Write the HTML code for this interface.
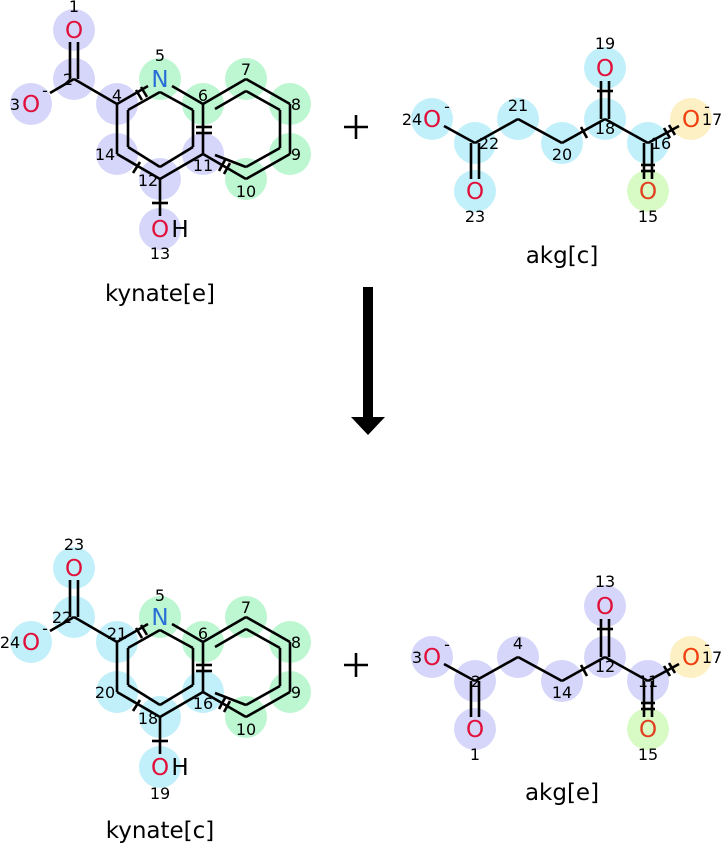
<!DOCTYPE html>
<html><head><meta charset="utf-8"><style>
html,body{margin:0;padding:0;background:#fff;}
svg{display:block;}
text{font-family:"DejaVu Sans","Liberation Sans",sans-serif;}
.n{font-size:16px;fill:#000;text-anchor:middle;}
.a{font-size:23px;text-anchor:middle;}
.o{fill:#e0103a;}
.l{font-size:23px;text-anchor:middle;fill:#000;}
circle{r:21px;}
</style></head><body>
<svg width="722" height="844" viewBox="0 0 722 844" xmlns="http://www.w3.org/2000/svg">
<defs>
<g id="kb" stroke="#000" stroke-width="2.6" fill="none" stroke-linecap="butt">
 <line x1="70" y1="42" x2="70" y2="79"/><line x1="78" y1="42" x2="78" y2="79"/>
 <line x1="74" y1="79" x2="50" y2="93"/>
 <line x1="74" y1="79" x2="117" y2="104"/>
 <line x1="117" y1="104" x2="148" y2="86"/>
 <line x1="172" y1="86" x2="203" y2="104"/>
 <line x1="203" y1="104" x2="246" y2="79"/>
 <line x1="246" y1="79" x2="290" y2="104"/>
 <line x1="290" y1="104" x2="290" y2="154"/>
 <line x1="290" y1="154" x2="246" y2="179"/>
 <line x1="246" y1="179" x2="203" y2="154"/>
 <line x1="203" y1="104" x2="203" y2="154"/>
 <line x1="203" y1="154" x2="160" y2="179"/>
 <line x1="160" y1="179" x2="117" y2="154"/>
 <line x1="117" y1="154" x2="117" y2="104"/>
 <line x1="160" y1="179" x2="160" y2="216"/>
 <line x1="128" y1="110" x2="160" y2="92"/>
 <line x1="160" y1="92" x2="193" y2="110"/>
 <line x1="193" y1="110" x2="193" y2="147"/>
 <line x1="193" y1="147" x2="160" y2="167"/>
 <line x1="160" y1="167" x2="128" y2="147"/>
 <line x1="128" y1="147" x2="128" y2="110"/>
 <line x1="215" y1="109" x2="246" y2="91"/>
 <line x1="246" y1="91" x2="280" y2="110"/>
 <line x1="280" y1="110" x2="280" y2="148"/>
 <line x1="280" y1="148" x2="246" y2="167"/>
 <line x1="246" y1="167" x2="215" y2="155"/>
 <line x1="136" y1="90" x2="142" y2="100"/><line x1="141" y1="87" x2="147" y2="97"/>
 <line x1="196" y1="127" x2="212" y2="127"/><line x1="196" y1="133" x2="212" y2="133"/>
 <line x1="133" y1="173" x2="140" y2="162"/>
 <line x1="219" y1="171" x2="225" y2="160"/><line x1="224" y1="174" x2="230" y2="163"/>
 <line x1="152" y1="203" x2="168" y2="203"/>
</g>
<g id="ab" stroke="#000" stroke-width="2.6" fill="none">
 <line x1="444" y1="126" x2="475" y2="143"/>
 <line x1="471" y1="143" x2="471" y2="179"/><line x1="479" y1="143" x2="479" y2="179"/>
 <line x1="475" y1="143" x2="518" y2="119"/>
 <line x1="518" y1="119" x2="562" y2="143"/>
 <line x1="562" y1="143" x2="605" y2="119"/>
 <line x1="601" y1="81" x2="601" y2="119"/><line x1="609" y1="81" x2="609" y2="119"/>
 <line x1="605" y1="119" x2="648" y2="143"/>
 <line x1="644" y1="143" x2="644" y2="179"/><line x1="652" y1="143" x2="652" y2="179"/>
 <line x1="648" y1="143" x2="679" y2="126"/>
 <line x1="597" y1="91" x2="613" y2="91"/>
 <line x1="641" y1="165" x2="655" y2="165"/><line x1="641" y1="171" x2="655" y2="171"/>
 <line x1="581" y1="127" x2="587" y2="138"/>
 <line x1="664" y1="128" x2="670" y2="138"/><line x1="669" y1="125" x2="675" y2="135"/>
</g>
</defs>

<g fill="#d6d6fa">
<circle cx="74" cy="30" r="21"/><circle cx="74" cy="79" r="21"/><circle cx="31" cy="104" r="21"/>
<circle cx="117" cy="104" r="21"/><circle cx="117" cy="154" r="21"/><circle cx="160" cy="179" r="21"/>
<circle cx="203" cy="154" r="21"/><circle cx="160" cy="229" r="21"/>
</g>
<g fill="#bdf7d2">
<circle cx="160" cy="79" r="21"/><circle cx="203" cy="104" r="21"/><circle cx="246" cy="79" r="21"/>
<circle cx="290" cy="104" r="21"/><circle cx="290" cy="154" r="21"/><circle cx="246" cy="179" r="21"/>
</g>
<use href="#kb"/>
<g transform="translate(0,538)">
<g fill="#c2f0fa">
<circle cx="74" cy="30" r="21"/><circle cx="74" cy="79" r="21"/><circle cx="31" cy="104" r="21"/>
<circle cx="117" cy="104" r="21"/><circle cx="117" cy="154" r="21"/><circle cx="160" cy="179" r="21"/>
<circle cx="203" cy="154" r="21"/><circle cx="160" cy="229" r="21"/>
</g>
<g fill="#bdf7d2">
<circle cx="160" cy="79" r="21"/><circle cx="203" cy="104" r="21"/><circle cx="246" cy="79" r="21"/>
<circle cx="290" cy="104" r="21"/><circle cx="290" cy="154" r="21"/><circle cx="246" cy="179" r="21"/>
</g>
<use href="#kb"/>
</g>

<g fill="#c2f0fa">
<circle cx="432" cy="119" r="21"/><circle cx="475" cy="143" r="21"/><circle cx="475" cy="191" r="21"/>
<circle cx="518" cy="119" r="21"/><circle cx="562" cy="143" r="21"/><circle cx="605" cy="119" r="21"/>
<circle cx="605" cy="68" r="21"/><circle cx="648" cy="143" r="21"/>
</g>
<circle cx="691" cy="119" r="21" fill="#fdf0c4"/><circle cx="648" cy="191" r="21" fill="#d8fac4"/>
<use href="#ab"/>
<g transform="translate(0,538)">
<g fill="#d6d6fa">
<circle cx="432" cy="119" r="21"/><circle cx="475" cy="143" r="21"/><circle cx="475" cy="191" r="21"/>
<circle cx="518" cy="119" r="21"/><circle cx="562" cy="143" r="21"/><circle cx="605" cy="119" r="21"/>
<circle cx="605" cy="68" r="21"/><circle cx="648" cy="143" r="21"/>
</g>
<circle cx="691" cy="119" r="21" fill="#fdf0c4"/><circle cx="648" cy="191" r="21" fill="#d8fac4"/>
<use href="#ab"/>
</g>

<text class="a o" x="74" y="38">O</text>
<text class="a o" x="31" y="112">O</text><text class="n" x="45" y="96">-</text>
<text class="a" x="160" y="87" fill="#2a6fd6">N</text>
<text class="a o" x="160" y="237">O</text><text class="a" x="180" y="237">H</text>
<text class="n" x="74" y="12">1</text><text class="n" x="68" y="85">2</text><text class="n" x="15" y="110">3</text>
<text class="n" x="117" y="101">4</text><text class="n" x="160" y="61">5</text><text class="n" x="203" y="101">6</text>
<text class="n" x="246" y="75">7</text><text class="n" x="296" y="110">8</text><text class="n" x="296" y="160">9</text>
<text class="n" x="246" y="197">10</text><text class="n" x="203" y="171">11</text><text class="n" x="148" y="186">12</text>
<text class="n" x="160" y="259">13</text><text class="n" x="105" y="160">14</text>
<text class="l" x="160" y="301">kynate[e]</text>
<g transform="translate(0,538)">
<text class="a o" x="74" y="38">O</text>
<text class="a o" x="31" y="112">O</text><text class="n" x="45" y="96">-</text>
<text class="a" x="160" y="87" fill="#2a6fd6">N</text>
<text class="a o" x="160" y="237">O</text><text class="a" x="180" y="237">H</text>
<text class="n" x="74" y="12">23</text><text class="n" x="62" y="85">22</text><text class="n" x="10" y="110">24</text>
<text class="n" x="117" y="101">21</text><text class="n" x="160" y="63">5</text><text class="n" x="203" y="101">6</text>
<text class="n" x="246" y="75">7</text><text class="n" x="296" y="110">8</text><text class="n" x="296" y="160">9</text>
<text class="n" x="246" y="197">10</text><text class="n" x="203" y="171">16</text><text class="n" x="148" y="186">18</text>
<text class="n" x="160" y="261">19</text><text class="n" x="105" y="160">20</text>
<text class="l" x="160" y="300">kynate[c]</text>
</g>
<text class="a o" x="432" y="127">O</text><text class="n" x="447" y="112">-</text>
<text class="a o" x="475" y="199">O</text><text class="a o" x="605" y="76">O</text>
<text class="a" x="691" y="127" fill="#f04010">O</text><text class="n" x="707" y="112">-</text>
<text class="a" x="648" y="199" fill="#e04020">O</text>
<text class="n" x="412" y="125">24</text><text class="n" x="489" y="149">22</text><text class="n" x="475" y="222">23</text>
<text class="n" x="518" y="111">21</text><text class="n" x="562" y="160">20</text><text class="n" x="605" y="134">18</text>
<text class="n" x="605" y="49">19</text><text class="n" x="661" y="149">16</text><text class="n" x="712" y="125">17</text>
<text class="n" x="648" y="222">15</text>
<text class="l" x="562" y="263">akg[c]</text>
<g transform="translate(0,538)">
<text class="a o" x="432" y="127">O</text><text class="n" x="447" y="112">-</text>
<text class="a o" x="475" y="199">O</text><text class="a o" x="605" y="76">O</text>
<text class="a" x="691" y="127" fill="#f04010">O</text><text class="n" x="707" y="112">-</text>
<text class="a" x="648" y="199" fill="#e04020">O</text>
<text class="n" x="417" y="125">3</text><text class="n" x="476" y="149">2</text><text class="n" x="475" y="222">1</text>
<text class="n" x="518" y="111">4</text><text class="n" x="562" y="160">14</text><text class="n" x="605" y="134">12</text>
<text class="n" x="605" y="49">13</text><text class="n" x="648" y="149">11</text><text class="n" x="712" y="125">17</text>
<text class="n" x="648" y="222">15</text>
<text class="l" x="562" y="262">akg[e]</text>
</g>
<g stroke="#000" stroke-width="2.6">
<line x1="344" y1="127" x2="368" y2="127"/><line x1="356" y1="115" x2="356" y2="139"/>
<line x1="344" y1="665" x2="368" y2="665"/><line x1="356" y1="653" x2="356" y2="677"/>
</g>
<rect x="363" y="287" width="10" height="132" fill="#000"/>
<polygon points="351,417 385,417 368,435" fill="#000"/>
</svg>
</body></html>
